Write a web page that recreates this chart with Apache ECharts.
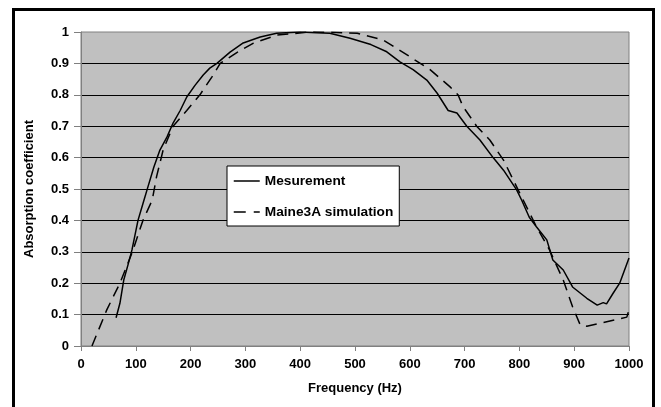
<!DOCTYPE html>
<html>
<head>
<meta charset="utf-8">
<script src="https://cdn.jsdelivr.net/npm/echarts@6/dist/echarts.min.js"></script>
<style>html,body{margin:0;padding:0;background:#fff;}#c{width:661px;height:407px;}</style>
</head>
<body>
<div id="c"></div>
<script>
const xTicks = [0,100,200,300,400,500,600,700,800,900,1000];
const yTicks = [0,0.1,0.2,0.3,0.4,0.5,0.6,0.7,0.8,0.9,1];
const seriesNames = ['Mesurement','Maine3A simulation'];
const measFreq = [64,71,78,86,93,104,115,122,133,144,157,168,181,193,208,223,235,248,272,296,327,357,400,430,454,491,529,558,582,606,631,650,670,686,704,728,752,771,795,804,818,831,850,861,880,897,923,942,953,959,971,983,1000];
const measVal  = [0.09,0.136,0.21,0.26,0.306,0.40,0.465,0.506,0.57,0.624,0.666,0.71,0.75,0.793,0.83,0.863,0.885,0.90,0.936,0.965,0.984,0.996,1.0,0.998,0.996,0.98,0.96,0.937,0.905,0.88,0.847,0.805,0.75,0.742,0.70,0.656,0.60,0.56,0.497,0.465,0.41,0.38,0.338,0.274,0.242,0.188,0.152,0.13,0.138,0.134,0.168,0.2,0.28];
const simFreq = [20,47,71,93,113,130,138,150,168,193,217,239,254,285,314,357,418,454,504,551,595,637,673,688,697,722,746,771,795,831,855,880,897,911,923,996,1000];
const simVal  = [0,0.115,0.2,0.296,0.40,0.465,0.54,0.625,0.70,0.75,0.80,0.857,0.90,0.935,0.964,0.99,1.0,0.999,0.996,0.975,0.927,0.88,0.826,0.80,0.763,0.70,0.656,0.592,0.507,0.38,0.306,0.21,0.125,0.067,0.063,0.092,0.115];

const pair = (xs, ys) => xs.map((x, i) => [x, ys[i]]);
const FF = '"Liberation Sans", Arial, sans-serif';
const axisFont = {fontFamily: FF, fontWeight: 'bold', fontSize: 13, color: '#000'};
const legendFont = {fontFamily: FF, fontWeight: 'bold', fontSize: 13.7, color: '#000'};

const chart = echarts.init(document.getElementById('c'), null, {renderer: 'canvas'});
chart.setOption({
  animation: false,
  backgroundColor: '#fff',
  graphic: [{
    type: 'rect', silent: true, z: 100,
    shape: {x: 13.5, y: 9.5, width: 640, height: 420},
    style: {fill: 'none', stroke: '#000', lineWidth: 3}
  }],
  grid: {
    left: 81, top: 32, right: 32, bottom: 61,
    show: true, backgroundColor: '#c0c0c0', borderColor: '#808080', borderWidth: 1
  },
  legend: {
    orient: 'vertical', left: 227, top: 166,
    backgroundColor: '#fff', borderColor: '#000', borderWidth: 1, borderRadius: 0,
    padding: [8, 6, 7, 6], itemGap: 17, itemWidth: 26, itemHeight: 14,
    itemStyle: {opacity: 0},
    lineStyle: {width: 1.5},
    textStyle: legendFont,
    data: [
      {name: seriesNames[0], lineStyle: {type: 'solid', width: 1.5}},
      {name: seriesNames[1], lineStyle: {type: [12, 8], width: 1.5}}
    ]
  },
  xAxis: {
    type: 'value', min: xTicks[0], max: xTicks[xTicks.length-1], interval: 100,
    name: 'Frequency (Hz)', nameLocation: 'middle', nameGap: 36,
    nameTextStyle: axisFont,
    axisLine: {show: true, lineStyle: {color: '#808080', width: 1}},
    axisTick: {show: true, inside: false, length: 5, lineStyle: {color: '#808080'}},
    axisLabel: Object.assign({}, axisFont, {margin: 12, formatter: v => String(v)}),
    splitLine: {show: false}
  },
  yAxis: {
    type: 'value', min: yTicks[0], max: yTicks[yTicks.length-1], interval: 0.1,
    name: 'Absorption coefficient', nameLocation: 'middle', nameGap: 45, nameRotate: 90,
    nameTextStyle: axisFont,
    axisLine: {show: true, lineStyle: {color: '#808080', width: 1}},
    axisTick: {show: true, inside: false, length: 7, lineStyle: {color: '#808080'}},
    axisLabel: Object.assign({}, axisFont, {margin: 12, formatter: v => String(Math.round(v*10)/10)}),
    splitLine: {show: true, showMinLine: false, showMaxLine: false, lineStyle: {color: '#000', width: 1}}
  },
  series: [
    {name: seriesNames[0], type: 'line', showSymbol: false, symbol: 'none', data: pair(measFreq, measVal),
     lineStyle: {color: '#000', width: 1.5, type: 'solid'}, itemStyle: {color: '#000'}},
    {name: seriesNames[1], type: 'line', showSymbol: false, symbol: 'none', data: pair(simFreq, simVal),
     lineStyle: {color: '#000', width: 1.5, type: [11, 7]}, itemStyle: {color: '#000'}}
  ]
});
</script>
</body>
</html>
